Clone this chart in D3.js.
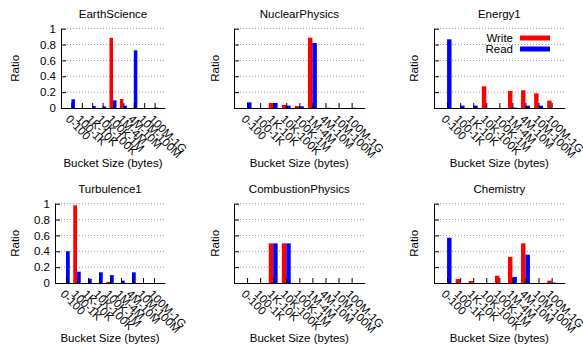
<!DOCTYPE html>
<html lang="en">
<head>
<meta charset="utf-8">
<title>Bucket size ratios</title>
<script src="https://cdn.jsdelivr.net/npm/d3@7"></script>
<style>
  body { margin: 0; background: #fff; }
  text { font-family: "Liberation Sans", Arial, Helvetica, sans-serif; font-size: 11.5px; fill: #000; }
</style>
</head>
<body>
<script>
// buckets on the x axis
var buckets = ["0-100", "100-1K", "1K-10K", "10K-100K", "100K-1M", "1M-4M", "4M-10M", "10M-100M", "100M-1G"];
var yTicks = [0, 0.2, 0.4, 0.6, 0.8, 1];

var titles = ["EarthScience", "NuclearPhysics", "Energy1", "Turbulence1", "CombustionPhysics", "Chemistry"];

// ratio per bucket, one array per app
var earthWrite      = [0, 0, 0, 0, 0.885, 0.113, 0, 0, 0];
var earthRead       = [0.11, 0, 0.025, 0.02, 0.097, 0.03, 0.727, 0, 0.005];
var nuclearWrite    = [0, 0, 0.063, 0.038, 0.025, 0.887, 0, 0, 0];
var nuclearRead     = [0.071, 0, 0.063, 0.03, 0.022, 0.82, 0.003, 0, 0.003];
var energyWrite     = [0, 0, 0, 0.273, 0, 0.214, 0.223, 0.185, 0.093];
var energyRead      = [0.866, 0.03, 0.03, 0, 0, 0.005, 0.03, 0.03, 0];
var turbWrite       = [0, 0.98, 0, 0, 0.015, 0, 0, 0, 0];
var turbRead        = [0.40, 0.143, 0.055, 0.135, 0.10, 0.03, 0.135, 0, 0];
var combWrite       = [0, 0, 0.5, 0.5, 0, 0, 0, 0, 0];
var combRead        = [0, 0, 0.5, 0.5, 0, 0, 0, 0, 0];
var chemWrite       = [0, 0.05, 0.025, 0, 0.092, 0.328, 0.50, 0, 0.03];
var chemRead        = [0.571, 0, 0, 0, 0, 0.076, 0.357, 0, 0.005];

var writes = [earthWrite, nuclearWrite, energyWrite, turbWrite, combWrite, chemWrite];
var reads  = [earthRead, nuclearRead, energyRead, turbRead, combRead, chemRead];

// panel boxes (left, right, top, bottom) and where the labels go
var panels = [
  {x0: 61,  x1: 165,   yt: 28.7,  yb: 108, ylab: 15,  tick: true},
  {x0: 234, x1: 364.7, yt: 28.7,  yb: 108, ylab: 215, tick: false},
  {x0: 434, x1: 564.7, yt: 28.7,  yb: 108, ylab: 414, tick: false, legend: true},
  {x0: 55,  x1: 165,   yt: 203.7, yb: 283, ylab: 15,  tick: true},
  {x0: 234, x1: 364.7, yt: 203.7, yb: 283, ylab: 215, tick: false},
  {x0: 434, x1: 564.7, yt: 203.7, yb: 283, ylab: 414, tick: false}
];

var W = 583, H = 346;
var barW = 0.34; // in bucket units

var svg = d3.select("body").append("svg")
  .attr("width", W)
  .attr("height", H);

panels.forEach(function(p, k) {
  var g = svg.append("g");

  var x = d3.scaleLinear().domain([-1, buckets.length]).range([p.x0, p.x1]);
  var y = d3.scaleLinear().domain([0, 1]).range([p.yb, p.yt]);

  // dotted grid
  g.selectAll("line.grid")
    .data(yTicks.filter(function(d) { return d > 0; }))
    .enter().append("line")
    .attr("class", "grid")
    .attr("x1", p.x0).attr("x2", p.x1)
    .attr("y1", function(d) { return y(d); })
    .attr("y2", function(d) { return y(d); })
    .attr("stroke", "#999")
    .attr("stroke-width", 1)
    .attr("stroke-dasharray", "1,2");

  // write bars (left of tick), read bars (right of tick)
  g.selectAll("rect.w")
    .data(writes[k])
    .enter().append("rect")
    .attr("class", "w")
    .attr("x", function(d, i) { return x(i - barW); })
    .attr("y", function(d) { return y(d); })
    .attr("width", x(barW) - x(0))
    .attr("height", function(d) { return p.yb - y(d); })
    .attr("fill", "#ff0000");

  g.selectAll("rect.r")
    .data(reads[k])
    .enter().append("rect")
    .attr("class", "r")
    .attr("x", function(d, i) { return x(i); })
    .attr("y", function(d) { return y(d); })
    .attr("width", x(barW) - x(0))
    .attr("height", function(d) { return p.yb - y(d); })
    .attr("fill", "#0000ff");

  // x axis, ticks pointing inward
  var xa = g.append("g")
    .attr("transform", "translate(0," + p.yb + ")")
    .call(d3.axisBottom(x)
      .tickValues(d3.range(buckets.length))
      .tickFormat(function(i) { return buckets[i]; })
      .tickSizeInner(-5)
      .tickSizeOuter(0));
  xa.select(".domain").attr("stroke", "#000");
  xa.selectAll(".tick line").attr("stroke", "#000");
  xa.selectAll(".tick text")
    .attr("y", 0)
    .attr("dy", "0.72em")
    .attr("text-anchor", "start")
    .attr("transform", "translate(-1,6) rotate(45)")
    .style("font-family", "Liberation Sans, Arial, sans-serif")
    .style("font-size", "11.5px")
    .attr("fill", "#000");

  // y axis
  var ya = g.append("g")
    .attr("transform", "translate(" + p.x0 + ",0)")
    .call(d3.axisLeft(y)
      .tickValues(yTicks)
      .tickFormat(p.tick ? d3.format("") : function() { return ""; })
      .tickSizeInner(-5)
      .tickSizeOuter(0)
      .tickPadding(5));
  ya.select(".domain").attr("stroke", "#000");
  ya.selectAll(".tick line").attr("stroke", "#000");
  ya.selectAll(".tick text")
    .style("font-family", "Liberation Sans, Arial, sans-serif")
    .style("font-size", "11.5px")
    .attr("fill", "#000");

  var cx = (p.x0 + p.x1) / 2;

  g.append("text")
    .attr("x", cx)
    .attr("y", p.yt - 11)
    .attr("text-anchor", "middle")
    .text(titles[k]);

  g.append("text")
    .attr("transform", "translate(" + (p.ylab + 4) + "," + ((p.yt + p.yb) / 2) + ") rotate(-90)")
    .attr("text-anchor", "middle")
    .text("Ratio");

  g.append("text")
    .attr("x", cx)
    .attr("y", p.yb + 59)
    .attr("text-anchor", "middle")
    .text("Bucket Size (bytes)");

  if (p.legend) {
    var items = [{name: "Write", color: "#ff0000"}, {name: "Read", color: "#0000ff"}];
    var lg = g.selectAll("g.leg")
      .data(items)
      .enter().append("g")
      .attr("transform", function(d, i) { return "translate(0," + (38 + i * 11) + ")"; });
    lg.append("text")
      .attr("x", 513)
      .attr("dy", "0.35em")
      .attr("text-anchor", "end")
      .text(function(d) { return d.name; });
    lg.append("line")
      .attr("x1", 520).attr("x2", 550)
      .attr("stroke", function(d) { return d.color; })
      .attr("stroke-width", 5);
  }
});
</script>
</body>
</html>
